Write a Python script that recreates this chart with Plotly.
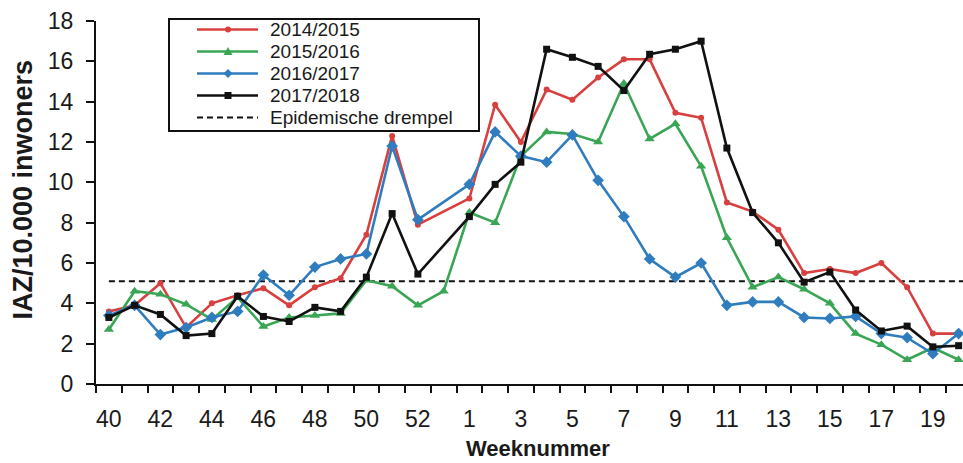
import plotly.graph_objects as go

# ---------------- data ----------------
WEEKS = [40, 41, 42, 43, 44, 45, 46, 47, 48, 49, 50, 51, 52, 53,
         1, 2, 3, 4, 5, 6, 7, 8, 9, 10, 11, 12, 13, 14, 15, 16, 17, 18, 19, 20]
SEASONS = ["2014/2015", "2015/2016", "2016/2017", "2017/2018"]

IAZ_2014_2015 = [3.6, 3.9, 5.0, 2.8, 4.0, 4.4, 4.75, 3.9, 4.8, 5.25, 7.4, 12.3, 7.9, None,
                 9.2, 13.85, 12.0, 14.6, 14.1, 15.2, 16.1, 16.1, 13.45, 13.2, 9.0, 8.55,
                 7.65, 5.5, 5.7, 5.5, 6.0, 4.8, 2.5, 2.5]
IAZ_2015_2016 = [2.7, 4.6, 4.45, 3.95, 3.2, 4.3, 2.85, 3.3, 3.4, 3.5, 5.15, 4.85, 3.9, 4.6,
                 8.5, 8.0, 11.3, 12.5, 12.4, 12.0, 14.9, 12.15, 12.9, 10.8, 7.25, 4.8,
                 5.3, 4.7, 4.0, 2.5, 1.95, 1.2, 1.8, 1.2]
IAZ_2016_2017 = [3.4, 3.9, 2.45, 2.8, 3.3, 3.6, 5.4, 4.4, 5.8, 6.2, 6.45, 11.8, 8.15, None,
                 9.9, 12.5, 11.3, 11.0, 12.35, 10.1, 8.3, 6.2, 5.3, 6.0, 3.9, 4.07,
                 4.07, 3.3, 3.25, 3.35, 2.5, 2.3, 1.5, 2.5]
IAZ_2017_2018 = [3.3, 3.9, 3.45, 2.4, 2.5, 4.35, 3.35, 3.1, 3.8, 3.6, 5.3, 8.45, 5.45, None,
                 8.3, 9.9, 11.0, 16.6, 16.2, 15.75, 14.55, 16.35, 16.6, 17.0, 11.7, 8.5,
                 7.0, 5.05, 5.55, 3.67, 2.63, 2.87, 1.84, 1.9]
SERIES = [IAZ_2014_2015, IAZ_2015_2016, IAZ_2016_2017, IAZ_2017_2018]

THRESHOLD = 5.1
THRESHOLD_LABEL = "Epidemische drempel"
Y_TICKS = [0, 2, 4, 6, 8, 10, 12, 14, 16, 18]
X_TITLE = "Weeknummer"
Y_TITLE = "IAZ/10.000 inwoners"

# ---------------- styles ----------------
COLORS = ["#d8403f", "#3aa655", "#2f7cbf", "#111111"]
SYMBOLS = ["circle", "triangle-up", "diamond", "square"]
SIZES = [6, 9, 9, 7]
FONT = "Liberation Sans, Arial, sans-serif"

W, H = 963, 463
L, T, B, R = 96, 21, 79, 0
PW, PH = W - L - R, H - T - B
STEP = 25.75  # pixels per week

def px(x):
    return (x - L) / PW

def py(y):
    return (H - B - y) / PH

xs = list(range(len(WEEKS)))

fig = go.Figure()

# threshold line
fig.add_trace(go.Scatter(
    x=[xs[0], xs[-1] + 0.5], y=[THRESHOLD, THRESHOLD], mode="lines",
    line=dict(color="#111111", width=2, dash="6px,4px"),
    showlegend=False, hoverinfo="skip"))

for name, vals, col, sym, sz in zip(SEASONS, SERIES, COLORS, SYMBOLS, SIZES):
    fig.add_trace(go.Scatter(
        x=xs, y=vals, name=name, mode="lines+markers", connectgaps=True,
        line=dict(color=col, width=2.6),
        marker=dict(symbol=sym, size=sz, color=col, line=dict(width=0)),
        showlegend=False))

# ---------------- manual legend ----------------
shapes = []
annotations = []
LX0, LX1, LY0, LY1 = 169, 479, 19, 131
shapes.append(dict(type="rect", xref="paper", yref="paper",
                   x0=px(LX0), x1=px(LX1), y0=py(LY1), y1=py(LY0),
                   line=dict(color="#111111", width=2), fillcolor="white", layer="above"))
rows = [29.5, 51.5, 73.5, 95.5, 117.5]
SX0, SX1, SXM, TX = 197, 258, 228, 268
for i, (name, col, sym) in enumerate(zip(SEASONS, COLORS, SYMBOLS)):
    ry = rows[i]
    shapes.append(dict(type="line", xref="paper", yref="paper",
                       x0=px(SX0), x1=px(SX1), y0=py(ry), y1=py(ry),
                       line=dict(color=col, width=2.6), layer="above"))
    if sym == "circle":
        r = 3
        shapes.append(dict(type="circle", xref="paper", yref="paper",
                           x0=px(SXM - r), x1=px(SXM + r), y0=py(ry + r), y1=py(ry - r),
                           fillcolor=col, line=dict(width=0), layer="above"))
    elif sym == "square":
        r = 3.5
        shapes.append(dict(type="rect", xref="paper", yref="paper",
                           x0=px(SXM - r), x1=px(SXM + r), y0=py(ry + r), y1=py(ry - r),
                           fillcolor=col, line=dict(width=0), layer="above"))
    elif sym == "diamond":
        r = 4.5
        path = "M{},{} L{},{} L{},{} L{},{} Z".format(
            px(SXM), py(ry - r), px(SXM + r), py(ry), px(SXM), py(ry + r), px(SXM - r), py(ry))
        shapes.append(dict(type="path", xref="paper", yref="paper", path=path,
                           fillcolor=col, line=dict(width=0), layer="above"))
    else:
        r = 4.5
        path = "M{},{} L{},{} L{},{} Z".format(
            px(SXM), py(ry - r), px(SXM + r), py(ry + r * 0.8), px(SXM - r), py(ry + r * 0.8))
        shapes.append(dict(type="path", xref="paper", yref="paper", path=path,
                           fillcolor=col, line=dict(width=0), layer="above"))
    annotations.append(dict(xref="paper", yref="paper", x=px(TX), y=py(ry),
                            xanchor="left", yanchor="middle", showarrow=False,
                            text=name, font=dict(family=FONT, size=19, color="#1a1a1a")))
ry = rows[4]
shapes.append(dict(type="line", xref="paper", yref="paper",
                   x0=px(SX0), x1=px(SX1), y0=py(ry), y1=py(ry),
                   line=dict(color="#111111", width=2, dash="6px,4px"), layer="above"))
annotations.append(dict(xref="paper", yref="paper", x=px(TX), y=py(ry),
                        xanchor="left", yanchor="middle", showarrow=False,
                        text=THRESHOLD_LABEL, font=dict(family=FONT, size=19, color="#1a1a1a")))

# axis titles
annotations.append(dict(xref="paper", yref="paper", x=px(22.5), y=py(190),
                        xanchor="center", yanchor="middle", showarrow=False, textangle=-90,
                        text="<b>" + Y_TITLE + "</b>",
                        font=dict(family=FONT, size=27, color="#1a1a1a")))
annotations.append(dict(xref="paper", yref="paper", x=px(538), y=py(448),
                        xanchor="center", yanchor="middle", showarrow=False,
                        text="<b>" + X_TITLE + "</b>",
                        font=dict(family=FONT, size=22, color="#1a1a1a")))

tickvals = xs[::2]
ticktext = [str(WEEKS[i]) for i in tickvals]

fig.update_layout(
    width=W, height=H,
    margin=dict(l=L, r=R, t=T, b=B, pad=0),
    paper_bgcolor="white", plot_bgcolor="white",
    font=dict(family=FONT, size=23, color="#1a1a1a"),
    showlegend=False,
    shapes=shapes, annotations=annotations,
    xaxis=dict(
        range=[-0.5, -0.5 + PW / STEP],
        tickmode="array", tickvals=tickvals, ticktext=ticktext,
        ticks="outside", ticklen=13, tickcolor="rgba(0,0,0,0)",
        tickfont=dict(family=FONT, size=23, color="#1a1a1a"),
        showline=True, linecolor="#111111", linewidth=2,
        showgrid=False, zeroline=False,
        minor=dict(tickmode="array", tickvals=[i - 0.5 for i in range(len(WEEKS) + 1)],
                   ticks="outside", ticklen=7, tickwidth=2, tickcolor="#111111", showgrid=False),
    ),
    yaxis=dict(
        range=[0, 18], tickmode="array", tickvals=Y_TICKS,
        ticks="outside", ticklen=8, tickwidth=2, tickcolor="#111111",
        ticklabelstandoff=8,
        tickfont=dict(family=FONT, size=23, color="#1a1a1a"),
        showline=True, linecolor="#111111", linewidth=2,
        showgrid=False, zeroline=False,
    ),
)

fig.write_html("out.html")
